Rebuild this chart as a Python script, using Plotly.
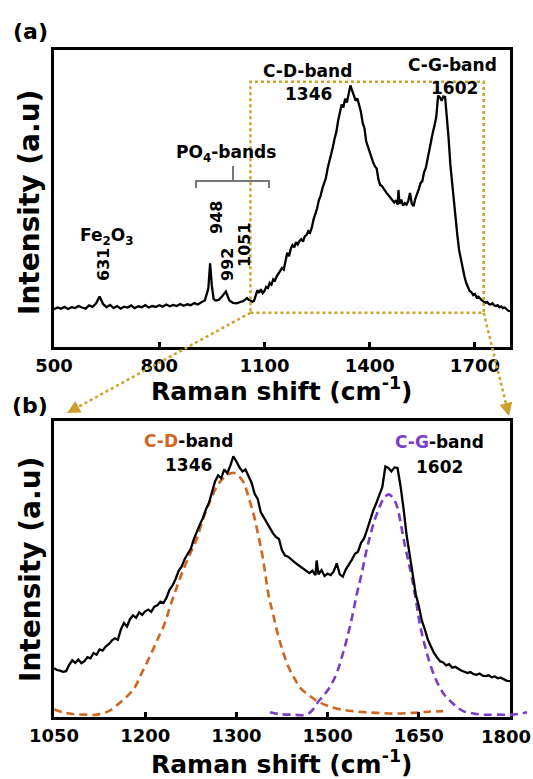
import plotly.graph_objects as go

# ---------------- data ----------------
raman_shift = [
    500, 510, 520, 530, 540, 550, 560, 570, 580, 590, 600, 610, 620, 630, 640, 650,
    660, 670, 680, 690, 700, 710, 720, 730, 740, 750, 760, 770, 780, 790, 800, 810,
    820, 830, 840, 850, 860, 870, 880, 890, 900, 910, 920, 930, 940, 945, 950, 955,
    960, 970, 980, 990, 1000, 1010, 1020, 1030, 1040, 1050,
    1055, 1060, 1065, 1070, 1075, 1080, 1085, 1090, 1095, 1100, 1105, 1110, 1115, 1120,
    1125, 1130, 1135, 1140, 1145, 1150, 1155, 1160, 1165, 1170, 1175, 1180, 1185, 1190,
    1195, 1200, 1205, 1210, 1215, 1220, 1225, 1230, 1235, 1240, 1245, 1250, 1255, 1260,
    1265, 1270, 1275, 1280, 1285, 1290, 1295, 1300, 1305, 1310, 1315, 1320, 1325, 1330,
    1335, 1340, 1345, 1350, 1355, 1360, 1365, 1370, 1375, 1380, 1385, 1390, 1395, 1400,
    1405, 1410, 1415, 1420, 1425, 1430, 1435, 1440, 1445, 1450, 1455, 1460, 1465, 1470,
    1475, 1480, 1482, 1485, 1490, 1495, 1500, 1505, 1510, 1515, 1520, 1525, 1530, 1535,
    1540, 1545, 1550, 1555, 1560, 1565, 1570, 1575, 1580, 1585, 1590, 1595, 1600, 1605,
    1610, 1615, 1620, 1625, 1630, 1635, 1640, 1645, 1650, 1655, 1660, 1665, 1670, 1675,
    1680, 1685, 1690, 1695, 1700, 1705, 1710, 1715, 1720, 1725, 1730, 1735, 1740, 1745,
    1750, 1755, 1760, 1765, 1770, 1775, 1780, 1785, 1790, 1795, 1800,
]
intensity = [
    0.120, 0.126, 0.122, 0.128, 0.121, 0.127, 0.124, 0.131, 0.126, 0.122, 0.133, 0.128,
    0.140, 0.163, 0.138, 0.127, 0.135, 0.124, 0.131, 0.122, 0.129, 0.126, 0.133, 0.124,
    0.130, 0.127, 0.134, 0.126, 0.131, 0.128, 0.134, 0.129, 0.136, 0.130, 0.135, 0.131,
    0.138, 0.132, 0.137, 0.134, 0.141, 0.136, 0.144, 0.150, 0.190, 0.276, 0.200, 0.155,
    0.150, 0.152, 0.165, 0.180, 0.150, 0.142, 0.140, 0.143, 0.148, 0.158,
    0.152, 0.150, 0.146, 0.148, 0.170, 0.185, 0.176, 0.188, 0.175, 0.182, 0.196, 0.192,
    0.210, 0.204, 0.222, 0.218, 0.232, 0.240, 0.252, 0.260, 0.255, 0.290, 0.312, 0.300,
    0.325, 0.338, 0.330, 0.348, 0.340, 0.352, 0.358, 0.350, 0.368, 0.372, 0.385, 0.380,
    0.398, 0.425, 0.440, 0.462, 0.490, 0.505, 0.530, 0.548, 0.565, 0.598, 0.620, 0.648,
    0.670, 0.700, 0.722, 0.760, 0.795, 0.815, 0.805, 0.835, 0.822, 0.848, 0.880, 0.862,
    0.842, 0.828, 0.835, 0.812, 0.790, 0.752, 0.735, 0.690, 0.672, 0.650, 0.632, 0.618,
    0.605, 0.598, 0.560, 0.542, 0.538, 0.528, 0.520, 0.512, 0.505, 0.498, 0.488, 0.482,
    0.490, 0.475, 0.525, 0.478, 0.492, 0.472, 0.480, 0.475, 0.488, 0.515, 0.478, 0.470,
    0.495, 0.510, 0.528, 0.548, 0.555, 0.585, 0.600, 0.630, 0.665, 0.695, 0.720, 0.745,
    0.775, 0.845, 0.840, 0.828, 0.842, 0.840, 0.778, 0.700, 0.610, 0.545, 0.480, 0.410,
    0.370, 0.320, 0.290, 0.255, 0.232, 0.210, 0.195, 0.182, 0.178, 0.168, 0.172, 0.160,
    0.163, 0.155, 0.150, 0.146, 0.142, 0.145, 0.138, 0.136, 0.140, 0.133, 0.131, 0.134,
    0.127, 0.130, 0.124, 0.126, 0.120, 0.115, 0.114,
]

d_fit_x = [1050, 1065, 1080, 1100, 1120, 1140, 1155, 1170, 1182, 1195, 1209, 1220, 1231,
           1242, 1253, 1264, 1275, 1285, 1295, 1305, 1316, 1326, 1336, 1346, 1354, 1362,
           1370, 1379, 1386, 1393, 1403, 1410, 1417, 1425, 1434, 1445, 1455, 1470, 1483,
           1500, 1521, 1550, 1580, 1610, 1640, 1665, 1690]
d_fit_y = [0.018, 0.008, 0.002, 0.000, 0.000, 0.012, 0.035, 0.062, 0.090, 0.145, 0.204,
           0.255, 0.305, 0.375, 0.440, 0.500, 0.553, 0.600, 0.665, 0.720, 0.770, 0.800,
           0.818, 0.823, 0.812, 0.790, 0.740, 0.677, 0.610, 0.540, 0.406, 0.345, 0.283,
           0.225, 0.170, 0.125, 0.091, 0.065, 0.046, 0.030, 0.018, 0.010, 0.006, 0.004,
           0.006, 0.010, 0.012]

g_fit_x = [1405, 1420, 1440, 1465, 1475, 1483, 1491, 1499, 1508, 1516, 1524, 1532, 1540,
           1548, 1556, 1563, 1570, 1577, 1584, 1592, 1600, 1607, 1614, 1620, 1625, 1632,
           1639, 1646, 1652, 1660, 1669, 1677, 1685, 1693, 1702, 1712, 1723, 1740, 1756,
           1780, 1800, 1815, 1828]
g_fit_y = [0.008, 0.002, 0.000, 0.000, 0.015, 0.040, 0.060, 0.080, 0.110, 0.147, 0.200,
           0.260, 0.330, 0.410, 0.480, 0.550, 0.610, 0.660, 0.700, 0.735, 0.750, 0.740,
           0.710, 0.655, 0.598, 0.530, 0.463, 0.380, 0.305, 0.235, 0.170, 0.125, 0.091,
           0.065, 0.046, 0.027, 0.012, 0.004, 0.000, 0.000, 0.000, 0.003, 0.008]

top_ticks = [500, 800, 1100, 1400, 1700]
bottom_ticks = [1050, 1200, 1350, 1500, 1650, 1800]
bottom_ticktext = ["1050", "1200", "1300", "1500", "1650", ""]
last_bottom_label = "1800"   # drawn as an annotation, nudged left to stay on the page

# ---------------- styling / geometry ----------------
W, H = 533, 779
ML, MR, MT, MB = 54, 3, 50, 62
PW, PH = W - ML - MR, H - MT - MB
FONT = "DejaVu Sans"
GOLD = "#CDA02A"
ORANGE = "#D2651E"
PURPLE = "#7A3DC8"
GRAY = "#777777"

def px2x(px):
    return (px - ML) / PW

def py2y(py):
    return (H - MB - py) / PH

frame_right = 510
x_dom_right = px2x(frame_right)
top_dom = [py2y(347), 1.0]
bot_dom = [0.0, py2y(421)]
Y_RANGE = [-0.008, 1.0]
TOP_RANGE = [500, 1800]
BOT_RANGE = [1050, 1800]
ext_right = BOT_RANGE[0] + (BOT_RANGE[1] - BOT_RANGE[0]) / x_dom_right

fig = go.Figure()

# top panel spectrum
fig.add_trace(go.Scatter(x=raman_shift, y=intensity, mode="lines",
                         line=dict(color="black", width=2.3), xaxis="x", yaxis="y",
                         showlegend=False, hoverinfo="skip"))
# bottom panel: D fit
fig.add_trace(go.Scatter(x=d_fit_x, y=d_fit_y, mode="lines", line_shape="spline",
                         line=dict(color=ORANGE, width=2.6, dash="8px,5px"),
                         xaxis="x2", yaxis="y2", showlegend=False, hoverinfo="skip"))
# bottom panel: G fit (own invisible, wider x/y pair with the same scale so it can
# run past the right frame as in the reference)
fig.add_trace(go.Scatter(x=g_fit_x, y=g_fit_y, mode="lines", line_shape="spline",
                         line=dict(color=PURPLE, width=2.6, dash="8px,5px"),
                         xaxis="x3", yaxis="y3", showlegend=False, hoverinfo="skip"))
# bottom panel spectrum
bx = [v for v in raman_shift if v >= 1050]
by = [intensity[i] for i, v in enumerate(raman_shift) if v >= 1050]
fig.add_trace(go.Scatter(x=bx, y=by, mode="lines",
                         line=dict(color="black", width=2.3), xaxis="x3", yaxis="y3",
                         showlegend=False, hoverinfo="skip"))

axis_common = dict(showline=True, mirror=True, linewidth=3, linecolor="black",
                   showgrid=False, zeroline=False, automargin=False)
tickfont = dict(family=FONT, size=18, color="black", weight="bold")

fig.update_layout(
    width=W, height=H, autosize=False,
    margin=dict(l=ML, r=MR, t=MT, b=MB, autoexpand=False),
    paper_bgcolor="white", plot_bgcolor="rgba(0,0,0,0)",
    font=dict(family=FONT, color="black"),
    xaxis=dict(domain=[0, x_dom_right], range=TOP_RANGE, anchor="y",
               tickmode="array", tickvals=top_ticks, ticks="inside", ticklen=5,
               tickwidth=2.5, tickcolor="black", tickfont=tickfont,
               ticklabelstandoff=0, **axis_common),
    yaxis=dict(domain=top_dom, range=Y_RANGE, anchor="x", showticklabels=False,
               ticks="", **axis_common),
    xaxis2=dict(domain=[0, x_dom_right], range=BOT_RANGE, anchor="y2",
                tickmode="array", tickvals=bottom_ticks, ticktext=bottom_ticktext,
                ticks="inside", ticklen=5, tickwidth=2.5, tickcolor="black",
                tickfont=tickfont, ticklabelstandoff=0, ticklabeloverflow="allow",
                **axis_common),
    yaxis2=dict(domain=bot_dom, range=Y_RANGE, anchor="x2", showticklabels=False,
                ticks="", **axis_common),
    xaxis3=dict(domain=[0, 1], range=[BOT_RANGE[0], ext_right], anchor="y3",
                visible=False, showgrid=False, zeroline=False, automargin=False),
    yaxis3=dict(domain=bot_dom, range=Y_RANGE, anchor="x3",
                visible=False, showgrid=False, zeroline=False, automargin=False),
)

# ---------------- annotations ----------------
def ann(text, px, py, size, angle=0, color="black"):
    fig.add_annotation(text=text, x=px2x(px), y=py2y(py), xref="paper", yref="paper",
                       showarrow=False, textangle=angle, xanchor="center",
                       yanchor="middle",
                       font=dict(family=FONT, size=size, color=color, weight="bold"))

ann("(a)", 30, 31, 22)
ann("(b)", 30, 405, 22)
ann("Intensity (a.u)", 30, 203, 28, angle=-90)
ann("Intensity (a.u)", 30, 570, 28, angle=-90)
ann("Raman shift (cm<sup>-1</sup>)", 282, 389, 25)
ann("Raman shift (cm<sup>-1</sup>)", 282, 762, 25)
ann(last_bottom_label, 506, 737, 18)

ann("C-D-band", 307, 71, 17)
ann("1346", 308, 94, 17)
ann("C-G-band", 452, 65, 17)
ann("1602", 454, 88, 17)
ann("PO<sub>4</sub>-bands", 226, 153, 17)
ann("Fe<sub>2</sub>O<sub>3</sub>", 106, 237, 17)
ann("631", 103, 265, 16, angle=-90)
ann("948", 216, 218, 16, angle=-90)
ann("992", 227, 265, 16, angle=-90)
ann("1051", 244, 245, 16, angle=-90)

ann("<span style='color:%s'>C-D</span>-band" % ORANGE, 188, 441, 17)
ann("1346", 188, 465, 17)
ann("<span style='color:%s'>C-G</span>-band" % PURPLE, 439, 442, 17)
ann("1602", 439, 467, 17)

# ---------------- bracket for PO4 bands ----------------
bx0, bx1, bxm, by0, byt, bys = 196, 269, 233, 181, 188, 166
fig.add_shape(type="path", xref="paper", yref="paper",
              path="M %f %f L %f %f L %f %f L %f %f" % (
                  px2x(bx0), py2y(byt), px2x(bx0), py2y(by0),
                  px2x(bx1), py2y(by0), px2x(bx1), py2y(byt)),
              line=dict(color=GRAY, width=2))
fig.add_shape(type="line", xref="paper", yref="paper",
              x0=px2x(bxm), y0=py2y(by0), x1=px2x(bxm), y1=py2y(bys),
              line=dict(color=GRAY, width=2))

# ---------------- zoom box and guide arrows ----------------
box_x = [1060, 1725]
box_y = [0.108, 0.892]
fig.add_shape(type="rect", xref="x", yref="y", x0=box_x[0], x1=box_x[1],
              y0=box_y[0], y1=box_y[1], line=dict(color=GOLD, width=2.5, dash="dot"))

def top_px(xv, yv):
    fx = ML + (xv - TOP_RANGE[0]) / (TOP_RANGE[1] - TOP_RANGE[0]) * (frame_right - ML)
    fy = 347 - (yv - Y_RANGE[0]) / (Y_RANGE[1] - Y_RANGE[0]) * (347 - 50)
    return fx, fy

for (sx, sy), (tx, ty) in [(top_px(box_x[0], box_y[0]), (67, 413)),
                           (top_px(box_x[1], box_y[0]), (509, 416))]:
    dx, dy = sx - tx, sy - ty
    n = (dx * dx + dy * dy) ** 0.5
    ux, uy = dx / n, dy / n
    ex, ey = tx + ux * 7, ty + uy * 7
    fig.add_shape(type="line", xref="paper", yref="paper",
                  x0=px2x(sx), y0=py2y(sy), x1=px2x(ex), y1=py2y(ey),
                  line=dict(color=GOLD, width=2.5, dash="dot"))
    fig.add_annotation(x=px2x(tx), y=py2y(ty), xref="paper", yref="paper", text="",
                       showarrow=True, arrowhead=2, arrowsize=1.3, arrowwidth=2,
                       arrowcolor=GOLD, ax=ux * 9, ay=uy * 9, standoff=0)

fig.write_html("out.html")
